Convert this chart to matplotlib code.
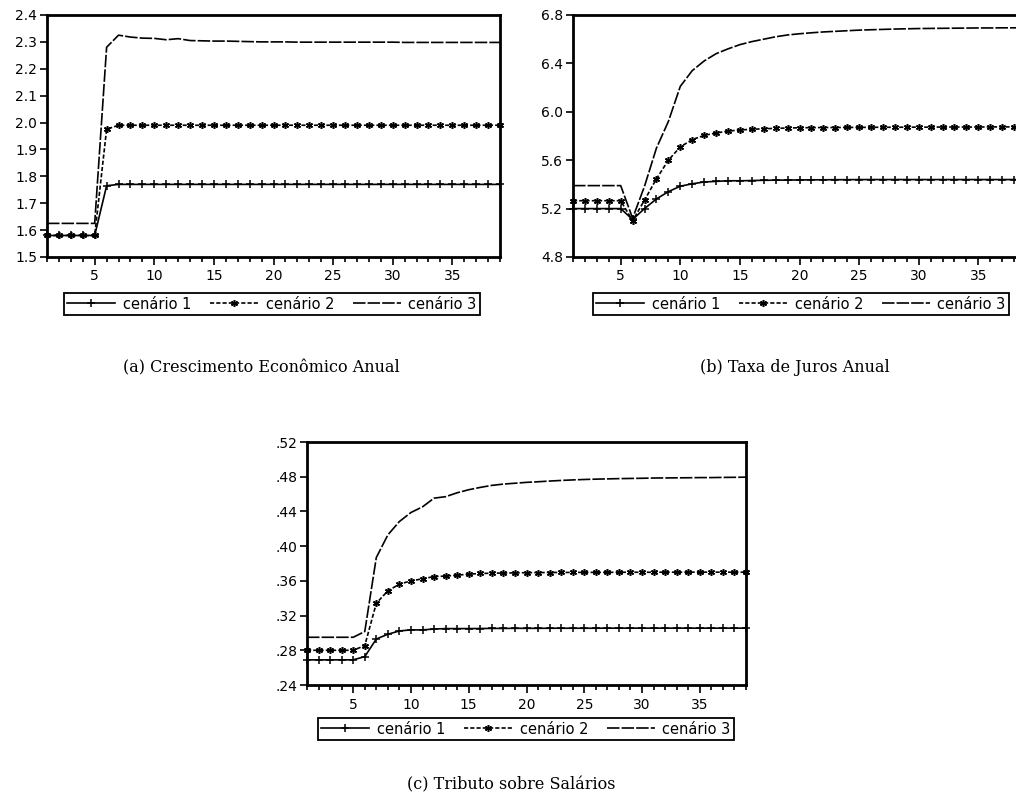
import matplotlib

matplotlib.use('Agg')
import matplotlib.pyplot as plt
from matplotlib.ticker import MultipleLocator, FuncFormatter

plt.rcParams['font.family'] = ['DejaVu Sans']
plt.rcParams['lines.scale_dashes'] = False

periods = list(range(1, 40))
labels = ['cenário 1', 'cenário 2', 'cenário 3']

# (a) Crescimento Econômico Anual
growth_c1 = [1.58, 1.58, 1.58, 1.58, 1.58, 1.765, 1.77, 1.77, 1.77, 1.77,
             1.77, 1.77, 1.77, 1.77, 1.77, 1.77, 1.77, 1.77, 1.77, 1.77,
             1.77, 1.77, 1.77, 1.77, 1.77, 1.77, 1.77, 1.77, 1.77, 1.77,
             1.77, 1.77, 1.77, 1.77, 1.77, 1.77, 1.77, 1.77, 1.77]
growth_c2 = [1.58, 1.58, 1.58, 1.58, 1.58, 1.975, 1.99, 1.99, 1.99, 1.99,
             1.99, 1.99, 1.99, 1.99, 1.99, 1.99, 1.99, 1.99, 1.99, 1.99,
             1.99, 1.99, 1.99, 1.99, 1.99, 1.99, 1.99, 1.99, 1.99, 1.99,
             1.99, 1.99, 1.99, 1.99, 1.99, 1.99, 1.99, 1.99, 1.99]
growth_c3 = [1.625, 1.625, 1.625, 1.625, 1.625, 2.28, 2.325, 2.318, 2.314, 2.313,
             2.308, 2.312, 2.305, 2.304, 2.303, 2.303, 2.302, 2.301, 2.300, 2.300,
             2.300, 2.299, 2.299, 2.299, 2.299, 2.299, 2.299, 2.299, 2.299, 2.299,
             2.298, 2.298, 2.298, 2.298, 2.298, 2.298, 2.298, 2.298, 2.298]

# (b) Taxa de Juros Anual
rate_c1 = [5.20, 5.20, 5.20, 5.20, 5.20, 5.11, 5.20, 5.28, 5.34, 5.385,
           5.405, 5.42, 5.425, 5.43, 5.43, 5.432, 5.434, 5.435, 5.436, 5.437,
           5.438, 5.438, 5.439, 5.439, 5.44, 5.44, 5.44, 5.44, 5.44, 5.44,
           5.44, 5.44, 5.44, 5.44, 5.44, 5.44, 5.44, 5.44, 5.44]
rate_c2 = [5.265, 5.265, 5.265, 5.265, 5.265, 5.10, 5.27, 5.446, 5.60, 5.71,
           5.77, 5.805, 5.825, 5.84, 5.85, 5.855, 5.86, 5.863, 5.866, 5.868,
           5.869, 5.87, 5.87, 5.871, 5.871, 5.872, 5.872, 5.872, 5.873, 5.873,
           5.873, 5.874, 5.874, 5.874, 5.874, 5.875, 5.875, 5.875, 5.875]
rate_c3 = [5.39, 5.39, 5.39, 5.39, 5.39, 5.12, 5.385, 5.70, 5.92, 6.21,
           6.34, 6.42, 6.48, 6.52, 6.555, 6.58, 6.60, 6.62, 6.635, 6.645,
           6.653, 6.66, 6.665, 6.67, 6.675, 6.678, 6.681, 6.684, 6.686, 6.688,
           6.689, 6.69, 6.691, 6.692, 6.693, 6.693, 6.694, 6.694, 6.695]

# (c) Tributo sobre Salários
tax_c1 = [.269, .269, .269, .269, .269, .2727, .293, .2985, .3023, .3035,
          .3035, .3045, .305, .305, .305, .3051, .3052, .3052, .3053, .3053,
          .3053, .3054, .3054, .3054, .3054, .3054, .3055, .3055, .3055, .3055,
          .3055, .3055, .3055, .3055, .3055, .3055, .3055, .3055, .3055]
tax_c2 = [.28, .28, .28, .28, .28, .2854, .3342, .3485, .3562, .36,
          .3623, .365, .3655, .3665, .3677, .3685, .3688, .369, .3692, .3694,
          .3695, .3696, .3697, .3697, .3698, .3698, .3698, .3699, .3699, .3699,
          .3699, .37, .37, .37, .37, .37, .37, .37, .37]
tax_c3 = [.295, .295, .295, .295, .295, .3016, .3869, .413, .4284, .4388,
          .4453, .4553, .457, .4615, .465, .4677, .470, .4715, .4725, .4735,
          .4742, .475, .4757, .4763, .4768, .4772, .4775, .4778, .478, .4782,
          .4785, .4786, .4787, .4788, .479, .479, .4792, .4793, .4795]

captions = ['(a) Crescimento Econômico Anual',
            '(b) Taxa de Juros Anual',
            '(c) Tributo sobre Salários']

W, H = 1016, 805
fig = plt.figure(figsize=(W / 100, H / 100), dpi=100)


def px_axes(left, top, right, bottom):
    return fig.add_axes([left / W, 1 - bottom / H, (right - left) / W,
                         (bottom - top) / H])


def draw_panel(ax, series, ylim, ystep, fmt, legend_center):
    styles = [
        dict(marker='+', ms=6, mew=1.1, linestyle='-'),
        dict(marker=(6, 2, 0), ms=5, mew=1.1, dashes=(3, 1.5)),
        dict(marker=None, dashes=(9, 1.5)),
    ]
    handles = []
    for vals, lab, st in zip(series, labels, styles):
        h, = ax.plot(periods, vals, color='black', lw=1.2, label=lab,
                     clip_on=False, **st)
        handles.append(h)
    ax.set_xlim(1, 39)
    ax.set_ylim(*ylim)
    ax.xaxis.set_major_locator(MultipleLocator(5))
    ax.xaxis.set_minor_locator(MultipleLocator(1))
    ax.yaxis.set_major_locator(MultipleLocator(ystep))
    ax.yaxis.set_major_formatter(FuncFormatter(fmt))
    ax.tick_params(axis='x', which='major', length=6, width=1.2,
                   labelsize=10, pad=3)
    ax.tick_params(axis='x', which='minor', length=3.5, width=1.2)
    ax.tick_params(axis='y', which='major', length=5, width=1.2,
                   labelsize=10, pad=2)
    for sp in ax.spines.values():
        sp.set_linewidth(2)
    leg = fig.legend(handles=handles, loc='center',
                     bbox_to_anchor=(legend_center[0] / W, 1 - legend_center[1] / H),
                     ncol=3, fontsize=10.5, frameon=True, fancybox=False,
                     edgecolor='black', framealpha=1, borderpad=0.25,
                     handlelength=3.3, handletextpad=0.5, columnspacing=1.3,
                     borderaxespad=0)
    leg.get_frame().set_linewidth(1.3)


ax_a = px_axes(47, 15, 500, 257)
draw_panel(ax_a, [growth_c1, growth_c2, growth_c3], (1.5, 2.4), 0.1,
           lambda v, p: f'{v:.1f}', (272, 304))

ax_b = px_axes(573, 15, 1026, 257)
draw_panel(ax_b, [rate_c1, rate_c2, rate_c3], (4.8, 6.8), 0.4,
           lambda v, p: f'{v:.1f}', (801, 304))

ax_c = px_axes(307, 442, 746, 685)
draw_panel(ax_c, [tax_c1, tax_c2, tax_c3], (0.24, 0.52), 0.04,
           lambda v, p: f'{v:.2f}'.lstrip('0'), (526, 729))

for (cx, cy), txt in zip([(261, 368), (795, 368), (511, 785)], captions):
    fig.text(cx / W, 1 - cy / H, txt, ha='center', va='center',
             fontsize=11.5, family='DejaVu Serif')

fig.savefig('out.png', dpi=100)
